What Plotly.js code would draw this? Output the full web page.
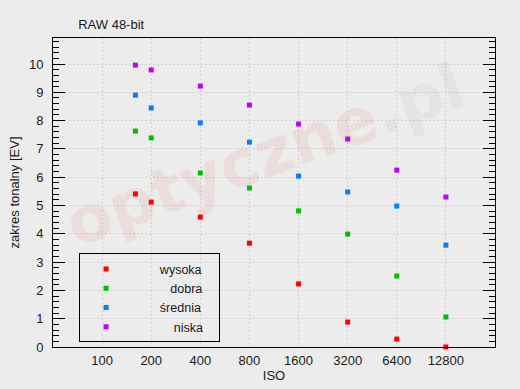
<!DOCTYPE html>
<html>
<head>
<meta charset="utf-8">
<script src="https://cdn.plot.ly/plotly-3.0.1.min.js"></script>
<style>html,body{margin:0;padding:0;background:#ececec;}#chart{width:520px;height:389px;}</style>
</head>
<body>
<div id="chart"></div>
<script>
// ISO values of the measured points
var iso = [160, 200, 400, 800, 1600, 3200, 6400, 12800];
// tonal range [EV] per quality level
var wysoka  = [5.41, 5.12, 4.59, 3.67, 2.23, 0.88, 0.28, 0.0];
var dobra   = [7.63, 7.39, 6.15, 5.62, 4.81, 3.99, 2.51, 1.06];
var srednia = [8.90, 8.45, 7.92, 7.24, 6.04, 5.48, 4.98, 3.60];
var niska   = [9.96, 9.79, 9.22, 8.55, 7.88, 7.35, 6.25, 5.30];
var seriesNames = ['wysoka', 'dobra', 'średnia', 'niska'];
var xTickVals = [100, 200, 400, 800, 1600, 3200, 6400, 12800];
var xTickText = ['100', '200', '400', '800', '1600', '3200', '6400', '12800'];

var colors = ['#ff0000', '#00bf00', '#0080ff', '#c000ff'];
var pads = [8, 11, 8, 12];
var allSeries = [wysoka, dobra, srednia, niska];
var NB = '\u00A0';
var font = 'Liberation Sans, Arial, sans-serif';

var traces = allSeries.map(function (s, i) {
  return {
    x: iso, y: s, type: 'scatter', mode: 'markers',
    name: NB.repeat(pads[i]) + seriesNames[i] + NB.repeat(3),
    cliponaxis: false,
    marker: {symbol: 'square', size: 5, color: colors[i], line: {width: 0}}
  };
});

var layout = {
  width: 520, height: 389,
  margin: {l: 53, r: 25, t: 38, b: 42},
  paper_bgcolor: '#ececec',
  plot_bgcolor: '#ececec',
  font: {family: font, size: 13, color: '#1a1a1a'},
  title: {text: 'RAW 48-bit', font: {family: font, size: 13, color: '#1a1a1a'},
          xref: 'paper', x: 0.057, xanchor: 'left', yref: 'container', y: 0.936, yanchor: 'middle'},
  showlegend: true,
  legend: {x: 0.059, y: 0.159, xanchor: 'left', yanchor: 'middle', bgcolor: 'rgba(0,0,0,0)',
           bordercolor: '#000', borderwidth: 1, font: {family: font, size: 12.5, color: '#1a1a1a'},
           itemwidth: 42, tracegroupgap: 0},
  xaxis: {
    type: 'log', range: [Math.log10(50), Math.log10(25600)],
    tickvals: xTickVals, ticktext: xTickText, ticks: '', ticklabelstandoff: 1,
    showgrid: true, gridcolor: '#d2d2d2', griddash: '2px,2px', gridwidth: 1,
    showline: true, linecolor: '#000', linewidth: 1, mirror: true,
    zeroline: false, fixedrange: true,
    title: {text: 'ISO', font: {family: font, size: 13, color: '#1a1a1a'}, standoff: 0}
  },
  yaxis: {
    range: [0, 10.92], tickvals: [0,1,2,3,4,5,6,7,8,9,10], ticklabelstandoff: 6,
    ticks: 'inside', ticklen: 12, tickcolor: '#000', tickwidth: 1,
    minor: {dtick: 0.2, ticks: 'inside', ticklen: 6, tickcolor: '#000', tickwidth: 1, showgrid: false},
    showgrid: true, gridcolor: '#d2d2d2', griddash: '2px,2px', gridwidth: 1,
    showline: true, linecolor: '#000', linewidth: 1, mirror: 'allticks',
    zeroline: false, fixedrange: true, automargin: true,
    title: {text: 'zakres tonalny [EV]', font: {family: font, size: 13, color: '#1a1a1a'}, standoff: 6}
  },
  annotations: [{
    xref: 'paper', yref: 'paper', x: 0.48, y: 0.62, showarrow: false,
    textangle: -20,
    text: '<b><span style="color:rgba(235,40,40,0.075)">optyczne</span><span style="color:rgba(0,0,0,0.03)">.pl</span></b>',
    font: {family: 'DejaVu Sans, sans-serif', size: 64}
  }]
};

Plotly.newPlot('chart', traces, layout, {staticPlot: true});
</script>
</body>
</html>
